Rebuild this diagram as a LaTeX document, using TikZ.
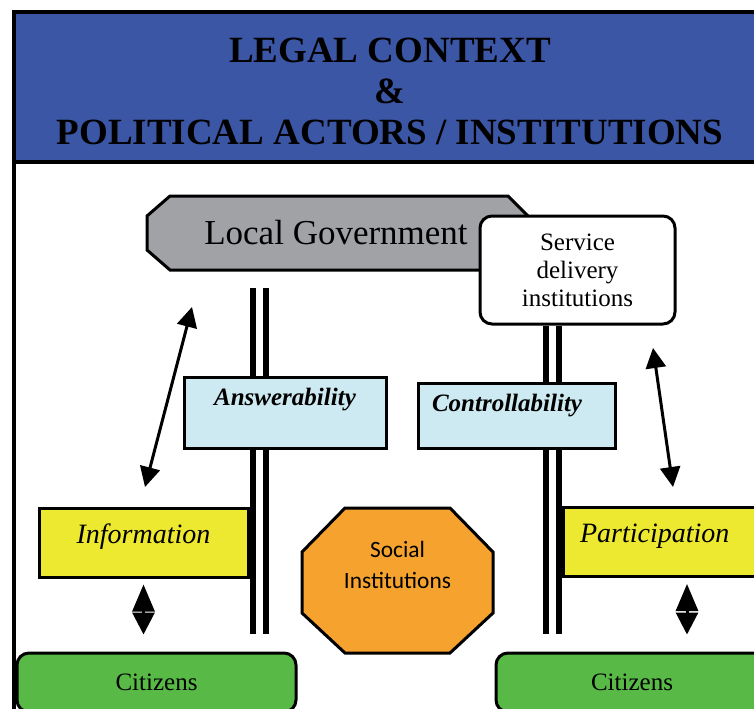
\documentclass[tikz,border=0pt]{standalone}
\usepackage{fontspec}
\setmainfont{Liberation Serif}
\newfontfamily\calibrifont{Carlito}
\usepackage{tikz}
\usetikzlibrary{arrows.meta,positioning}
\usepackage{xcolor}
\definecolor{lgblue}{RGB}{60,86,166}
\definecolor{lggray}{RGB}{160,162,166}
\definecolor{lglightblue}{RGB}{205,233,241}
\definecolor{lgyellow}{RGB}{237,232,48}
\definecolor{lggreen}{RGB}{88,185,71}
\definecolor{lgorange}{RGB}{245,163,46}
\tikzstyle{box} = [rectangle, draw=black, line width=1.5pt, inner sep=0pt]
\tikzstyle{outline} = [draw=black, line width=1.5pt]
\tikzstyle{servbox} = [box, rounded corners=6pt, fill=white, align=center, font=\fontsize{12.5}{14}\selectfont]
\tikzstyle{mechbox} = [box, fill=lglightblue, text height=14pt, font=\fontsize{12.5}{14}\selectfont\bfseries\itshape]
\tikzstyle{linkbox} = [box, fill=lgyellow, text height=17.5pt, text depth=17pt, font=\fontsize{14}{16}\selectfont\itshape]
\tikzstyle{citbox} = [box, rounded corners=6pt, fill=lggreen, font=\fontsize{12.5}{14}\selectfont]
\tikzstyle{pillar} = [line width=3pt, double=white, double distance=3.5pt]
\tikzstyle{arrow} = [line width=1.5pt, {Triangle[length=10pt,width=10pt]}-{Triangle[length=10pt,width=10pt]}]
\tikzstyle{smallarrow} = [line width=1.5pt, {Triangle[length=13.5pt,width=11pt]}-{Triangle[length=11pt,width=11pt]}]

\begin{document}
\begin{tikzpicture}[x=0.5pt, y=-0.5pt]
\useasboundingbox (0,0) rectangle (754,708);
\clip (0,0) rectangle (754,708);
\fill[white] (0,0) rectangle (754,708);

% Frame and heading
\draw[line width=1.75pt] (14,12) rectangle (790,760);
\node (banner) [box, line width=2pt, fill=lgblue, minimum width=383pt, minimum height=75pt] at (397,87) {};
\node (title) [align=center, font=\fontsize{18.5}{20.5}\selectfont\bfseries] at (390,91) {LEGAL CONTEXT\\\&\\POLITICAL ACTORS / INSTITUTIONS};

% Pillars
\coordinate (lptop) at (259.5,288);
\coordinate (lpbot) at (259.5,634);
\coordinate (rpbot) at (552.5,634);

% Actors
\filldraw[outline, fill=lggray] (170,196) -- (508,196) -- (528,216) -- (528,250) -- (508,270) -- (170,270) -- (147,250) -- (147,216) -- cycle;
\node (gov) [minimum width=190.5pt, minimum height=37pt, inner sep=0pt, font=\fontsize{17.5}{20}\selectfont] at (336,233) {Local Government};
\node (serv) [servbox, minimum width=97.5pt, minimum height=54pt] at (577.5,270) {Service\\delivery\\institutions};

\draw[pillar] (lptop) -- (lpbot);
\draw[pillar] (rpbot |- serv.south) -- (rpbot);

% Accountability boxes
\node (answer) [mechbox, text depth=21.5pt, minimum width=101pt] at (285,412.5) {Answerability};
\node (control) [mechbox, text depth=18.5pt, minimum width=98.5pt, inner xsep=7pt, text width=84.5pt, align=left] at (516.5,415.5) {Controllability};

\node (info) [linkbox, minimum width=104.5pt] at (143.5,542.5) {Information};
\node (part) [linkbox, minimum width=98.5pt, inner xsep=8.5pt, text width=81.5pt, align=left] at (661.5,542) {Participation};

\filldraw[outline, fill=lgorange] (345,508) -- (450,508) -- (493,552) -- (493,613) -- (450,653) -- (345,653) -- (302,613) -- (302,552) -- cycle;
\node (social) [align=center, font=\calibrifont\fontsize{11.7}{15.5}\selectfont] at (397.5,564.5) {Social\\Institutions};

\node (cit1) [citbox, minimum width=139.5pt, minimum height=29.5pt] at (156.5,682.5) {Citizens};
\node (cit2) [citbox, minimum width=136pt, minimum height=29.5pt] at (632,682.5) {Citizens};

% Arrows
\coordinate (infoup) at (145,487);
\coordinate (govdown) at (192,307);
\coordinate (servdown) at (653,348);
\coordinate (partup) at (673,487);
\draw[arrow] (infoup) -- (govdown);
\draw[arrow] (servdown) -- (partup);

\draw[smallarrow, shorten <=3pt, shorten >=8.5pt] (info.south) -- (info.south |- cit1.north);
\draw[smallarrow, shorten <=3pt, shorten >=8.5pt] ([xshift=12.75pt]part.south) -- ([xshift=12.75pt]part.south |- cit2.north);
\end{tikzpicture}
\end{document}
